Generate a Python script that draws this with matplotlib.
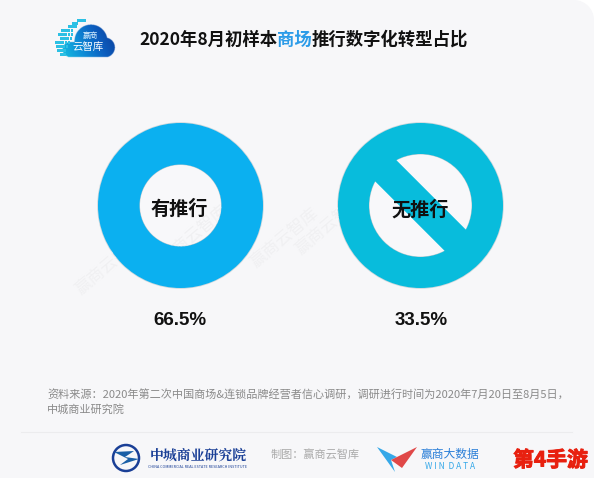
import matplotlib
matplotlib.use('Agg')
import matplotlib.pyplot as plt
import matplotlib.patheffects as pe
import numpy as np
from matplotlib.colors import LinearSegmentedColormap
from matplotlib.patches import Circle, Polygon, Rectangle, Wedge

plt.rcParams['font.family'] = ['Noto Sans CJK SC', 'DejaVu Sans']

title_parts = [('2020年8月初样本', '#111111'), ('商场', '#2b9be8'), ('推行数字化转型占比', '#111111')]
categories = ['有推行', '无推行']
shares = ['66.5%', '33.5%']
ring_colors = ['#0bb0f0', '#08bcdc']
source_lines = ['资料来源：2020年第二次中国商场&连锁品牌经营者信心调研，调研进行时间为2020年7月20日至8月5日，', '中城商业研究院']

W, H = 594, 478
BG = '#f7f7f9'
fig = plt.figure(figsize=(W/100, H/100), dpi=100, facecolor=BG)
ax = fig.add_axes([0, 0, 1, 1])
ax.set_xlim(0, W); ax.set_ylim(H, 0); ax.axis('off')

# rounded top-right corner
ax.add_patch(Rectangle((574, 0), 20, 20, fc='white', ec='none', zorder=0))
ax.add_patch(Circle((574, 20), 20, fc=BG, ec='none', zorder=0.5))

def ring(cx, cy, ro, ri, color):
    ax.add_patch(Circle((cx, cy), ro+0.8, fc='#cfd8dc', ec='none', zorder=1))
    ax.add_patch(Wedge((cx, cy), ro, 0, 360, width=ro-ri, fc=color, ec='none', zorder=2))
    ax.add_patch(Circle((cx, cy), ri, fc='#f8f8fa', ec='#c4ccd0', lw=0.7, zorder=1.5))

ring(180.5, 205.5, 82.5, 41, ring_colors[0])
ring(420.5, 205.5, 82.5, 51.5, ring_colors[1])
# slash across right ring
cx, cy, L, hw = 420.5, 205.5, 56, 15
s = 0.7071
ax.add_patch(Polygon([(cx-L*s+hw*s, cy-L*s-hw*s), (cx+L*s+hw*s, cy+L*s-hw*s),
                      (cx+L*s-hw*s, cy+L*s+hw*s), (cx-L*s-hw*s, cy-L*s+hw*s)],
                     fc=ring_colors[1], ec='none', zorder=2))

# faint watermarks
for x, y, r in [(195, 235, 40), (285, 238, 40), (330, 225, 40), (110, 265, 40)]:
    ax.text(x, y, '赢商云智库', fontsize=12, color='#f0f0f2', rotation=r, ha='center', va='center', zorder=1.7)

# title
x = 139
rend = fig.canvas.get_renderer()
for txt, col in title_parts:
    t = ax.text(x, 39.5, txt, fontsize=12.5, fontweight='bold', color=col, ha='left', va='center', zorder=5)
    x = t.get_window_extent(rend).x1

# center labels and values
for c, s_, cxx in zip(categories, shares, [179.5, 420.5]):
    ax.text(cxx, 209.5, c, fontsize=13.8, fontweight='bold', color='#111111', ha='center', va='center', zorder=5)
    ax.text(cxx+0.5, 320.5, s_, fontsize=13.5, fontweight='bold', color='#111111', ha='center', va='center',
            zorder=5, family=['Liberation Sans', 'DejaVu Sans'])

# source
ax.text(47, 394, source_lines[0], fontsize=8.03, color='#8a8a8a', ha='left', va='center', zorder=5)
ax.text(47, 409.5, source_lines[1], fontsize=8.03, color='#8a8a8a', ha='left', va='center', zorder=5)
ax.plot([21, 572], [432, 432], color='#ececee', lw=0.8, zorder=1)

# cloud logo: gradient masked by the union of its lobes
lobes = [(70, 49.5, 7.5), (91, 41, 16.5), (105, 47.5, 10), (84, 48, 9)]
px = np.linspace(60, 118, 232)
py = np.linspace(22, 58, 144)
gx, gy = np.meshgrid(px, py)
mask = (gx > 68) & (gx < 106) & (gy > 42) & (gy < 57)
for a, b, rad in lobes:
    mask |= (gx-a)**2 + (gy-b)**2 < rad**2
mask &= gy < 57
cmap = LinearSegmentedColormap.from_list('cl', ['#15bde0', '#0f8fd8', '#0c5fc0', '#0c3f9c'])
rgba = cmap(np.clip((gx-62)/56*0.85 + (57-gy)/35*0.25, 0, 1))
rgba[..., 3] = mask.astype(float)
ax.imshow(rgba, extent=(60, 118, 58, 22), aspect='auto', zorder=2, interpolation='bilinear')
ax.set_xlim(0, W); ax.set_ylim(H, 0)
for (yy, x0, n) in [(19, 77, 3), (22, 72, 2), (25, 68, 3), (29, 61, 4), (33, 58, 5), (37, 60, 4),
                    (41, 55, 5), (45, 56, 4), (49, 57, 3), (53, 60, 2)]:
    for k in range(n):
        ax.add_patch(Rectangle((x0 + k*3.2, yy), 2.5, 2.5, fc='#2cc0e4', ec='none', zorder=3))
ax.text(90, 36, '赢商', fontsize=5.5, color='#d8f0ff', ha='center', va='center', zorder=5)
ax.text(88, 47, '云智库', fontsize=7.5, color='white', ha='center', va='center', zorder=5)

# footer logos
ax.add_patch(Circle((126, 458), 13, fc='none', ec='#1a3f96', lw=1.8, zorder=3))
ax.add_patch(Polygon([(114, 452), (134, 451), (125, 457), (139, 459), (120, 465), (128, 459)], fc='#1a5fa6', ec='none', zorder=3))
ax.text(198, 455, '中城商业研究院', fontsize=10, fontweight='bold', color='#1a3f96', ha='center', va='center',
        family=['Noto Serif CJK SC', 'Noto Sans CJK SC'], zorder=5)
ax.text(198, 466.5, 'CHINA COMMERCIAL REAL ESTATE RESEARCH INSTITUTE', fontsize=2.7, color='#1a3f96', ha='center', va='center', zorder=5)
ax.text(271, 455.5, '制图：赢商云智库', fontsize=8, color='#aaaaaa', ha='left', va='center', zorder=5)
ax.add_patch(Polygon([(377, 447), (397, 457), (391, 460), (395, 472)], fc='#35a8e8', ec='none', zorder=3))
ax.add_patch(Polygon([(417, 447), (391, 460), (402, 468)], fc='#e04848', ec='none', zorder=4))
ax.text(450, 454.5, '赢商大数据', fontsize=8.5, color='#2b7fd8', ha='center', va='center', zorder=5)
ax.text(450, 466.5, 'W I N  D A T A', fontsize=6, color='#35a8e8', ha='center', va='center', zorder=5)
ax.text(550.5, 460, '第4手游', fontsize=15, fontweight='bold', color='#e8200f', ha='center', va='center', zorder=5,
        path_effects=[pe.withStroke(linewidth=0.7, foreground='#e8200f')])

fig.savefig('out.png', dpi=100, facecolor=fig.get_facecolor())
